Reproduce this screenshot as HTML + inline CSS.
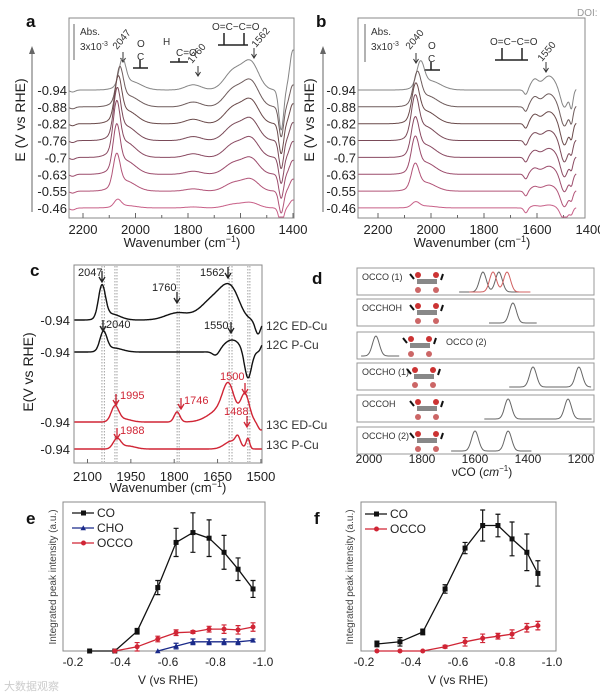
<!DOCTYPE html>
<html><head><meta charset="utf-8"><title>Spectra figure</title>
<style>
html,body{margin:0;padding:0;background:#fff;}
svg{display:block;font-family:"Liberation Sans","Noto Sans CJK SC",sans-serif;}
.tk{font-size:13px;fill:#222;}
.sm{font-size:10px;fill:#333;}
.pl{font-size:17px;font-weight:bold;fill:#111;}
</style></head>
<body>
<svg id="fig" xmlns="http://www.w3.org/2000/svg" width="600" height="696" viewBox="0 0 600 696">
<rect x="0" y="0" width="600" height="696" fill="#fff"/>
<text x="577" y="16" font-size="10" fill="#999">DOI:</text>

<!-- panel a -->
<g id="pa">
<text class="pl" x="26" y="27">a</text>
<rect x="69" y="18" width="225" height="200" fill="none" stroke="#888" stroke-width="1"/>
<line x1="32" y1="212" x2="32" y2="50" stroke="#666"/>
<path d="M29,54 L32,46 L35,54 Z" fill="#666"/>
<text transform="translate(25,120) rotate(-90)" text-anchor="middle" font-size="14" fill="#222">E (V vs RHE)</text>
<text x="182" y="247" text-anchor="middle" font-size="13" fill="#222">Wavenumber (cm<tspan dy="-5" font-size="9">−1</tspan><tspan dy="5">)</tspan></text>
<line x1="74" y1="24" x2="74" y2="60" stroke="#666"/>
<text x="80" y="35" class="sm">Abs.</text>
<text x="80" y="50" class="sm">3x10<tspan dy="-4" font-size="7">-3</tspan></text>
<text transform="translate(117,50) rotate(-50)" class="sm">2047</text>
<path d="M123,52 V62 M120.5,58 L123,62 L125.5,58" stroke="#333" fill="none"/>
<text x="137" y="47" class="sm">O</text>
<text x="137" y="60" class="sm">C</text>
<path d="M140,60 V68 M133,68 H148" stroke="#222" stroke-width="1.5" fill="none"/>
<text x="163" y="45" class="sm">H</text>
<text x="176" y="56" class="sm">C=O</text>
<path d="M179,58 V62 M170,62 H188" stroke="#222" stroke-width="1.5" fill="none"/>
<text transform="translate(192,64) rotate(-50)" class="sm">1760</text>
<path d="M198,66 V76 M195.5,72 L198,76 L200.5,72" stroke="#333" fill="none"/>
<text x="212" y="30" class="sm">O=C−C=O</text>
<path d="M224,33 V45 M244,33 V45 M218,45 H248" stroke="#222" stroke-width="1.5" fill="none"/>
<text transform="translate(256,48) rotate(-50)" class="sm">1562</text>
<path d="M254,48 V58 M251.5,54 L254,58 L256.5,54" stroke="#333" fill="none"/>
</g>

<!-- panel b -->
<g id="pb">
<text class="pl" x="316" y="27">b</text>
<rect x="358" y="18" width="227" height="200" fill="none" stroke="#888" stroke-width="1"/>
<line x1="323" y1="212" x2="323" y2="50" stroke="#666"/>
<path d="M320,54 L323,46 L326,54 Z" fill="#666"/>
<text transform="translate(314,120) rotate(-90)" text-anchor="middle" font-size="14" fill="#222">E (V vs RHE)</text>
<text x="472" y="247" text-anchor="middle" font-size="13" fill="#222">Wavenumber (cm<tspan dy="-5" font-size="9">−1</tspan><tspan dy="5">)</tspan></text>
<line x1="365" y1="24" x2="365" y2="62" stroke="#666"/>
<text x="371" y="35" class="sm">Abs.</text>
<text x="371" y="50" class="sm">3x10<tspan dy="-4" font-size="7">-3</tspan></text>
<text transform="translate(410,50) rotate(-50)" class="sm">2040</text>
<path d="M416,53 V63 M413.5,59 L416,63 L418.5,59" stroke="#333" fill="none"/>
<text x="428" y="49" class="sm">O</text>
<text x="428" y="62" class="sm">C</text>
<path d="M431,62 V70 M424,70 H440" stroke="#222" stroke-width="1.5" fill="none"/>
<text x="490" y="45" class="sm">O=C−C=O</text>
<path d="M502,48 V60 M522,48 V60 M495,60 H528" stroke="#222" stroke-width="1.5" fill="none"/>
<text transform="translate(542,62) rotate(-50)" class="sm">1550</text>
<path d="M546,62 V72 M543.5,68 L546,72 L548.5,68" stroke="#333" fill="none"/>
</g>

<!-- panel c -->
<g id="pc">
<text class="pl" x="30" y="276">c</text>
<rect x="74" y="265" width="188" height="198" fill="none" stroke="#888" stroke-width="1"/>
<text transform="translate(33,372) rotate(-90)" text-anchor="middle" font-size="14" fill="#222">E(V vs RHE)</text>
<text x="168" y="492" text-anchor="middle" font-size="13" fill="#222">Wavenumber (cm<tspan dy="-5" font-size="9">−1</tspan><tspan dy="5">)</tspan></text>
<text x="266" y="330" font-size="12" fill="#333">12C ED-Cu</text>
<text x="266" y="349" font-size="12" fill="#333">12C P-Cu</text>
<text x="266" y="429" font-size="12" fill="#333">13C ED-Cu</text>
<text x="266" y="449" font-size="12" fill="#333">13C P-Cu</text>
</g>

<!-- panel d -->
<g id="pd">
<text class="pl" x="312" y="284">d</text>
<text x="482" y="476" text-anchor="middle" font-size="12" fill="#222">νCO (<tspan font-style="italic">cm</tspan><tspan dy="-5" font-size="8">−1</tspan><tspan dy="5">)</tspan></text>
</g>

<!-- panel e -->
<g id="pe">
<text class="pl" x="26" y="524">e</text>
<rect x="63" y="502" width="202" height="149" fill="none" stroke="#888"/>
<text transform="translate(56,577) rotate(-90)" text-anchor="middle" font-size="10" fill="#444">Integrated peak intensity (a.u.)</text>
<text x="168" y="684" text-anchor="middle" font-size="12" fill="#222">V (vs RHE)</text>
</g>

<!-- panel f -->
<g id="pf">
<text class="pl" x="314" y="524">f</text>
<rect x="361" y="502" width="195" height="149" fill="none" stroke="#888"/>
<text transform="translate(353,577) rotate(-90)" text-anchor="middle" font-size="10" fill="#444">Integrated peak intensity (a.u.)</text>
<text x="458" y="684" text-anchor="middle" font-size="12" fill="#222">V (vs RHE)</text>
</g>
<text x="4" y="690" font-size="11" fill="#ccc">大数据观察</text>
</svg>

<script>
// ---------- data ----------
const abPotentialLabels = ['-0.94','-0.88','-0.82','-0.76','-0.7','-0.63','-0.55','-0.46'];
const aCoHeights = [25,32,38,42,45,40,30,7];
const aCoCenters = [2050,2060,2066,2070,2072,2072,2072,2068];
const aBandHeights = [26,24,22,20,18,15,11,5];
const aDipDepths = [40,30,30,28,26,24,22,16];
const aRiseHeights = [40,22,20,18,16,14,12,8];
const bCoHeights = [23,28,32,36,32,30,22,5];
const bCoCenters = [2040,2052,2058,2060,2060,2060,2060,2058];
const bBandHeights = [14,13,12,10,9,8,6,3];
const bDipDepths = [18,20,22,22,20,18,16,12];
const bRiseHeights = [32,28,25,22,20,18,15,10];
const abTicks = [2200,2000,1800,1600,1400];
const traceColors = ['#858585','#6e5c5c','#6a4a4a','#7a4a58','#8a4a62','#9c4c6c','#b25478','#c86088'];

const cTicks = [2100,1950,1800,1650,1500];
const cTraceNames = ['12c-ed-cu','12c-p-cu','13c-ed-cu','13c-p-cu'];
const cBaselines = [320,352,422,449];
const cColors = ['#111','#111','#d02535','#d02535'];
const cPeaks12ED = [[2050,12,32],[2018,30,6],[1790,40,7],[1660,45,22],[1612,28,20],[1585,22,8],[1510,10,-14]];
const cPeaks12P = [[2045,12,19],[2010,30,4],[1655,12,-5],[1600,30,12],[1545,12,-28],[1490,8,10]];
const cPeaks13ED = [[2005,13,15],[1975,25,3],[1790,10,10],[1640,40,12],[1612,20,30],[1555,15,27],[1500,10,-8]];
const cPeaks13P = [[1998,13,10],[1960,25,3],[1600,25,8],[1580,8,8],[1545,6,10]];
const cDotted = [2050,2042,2005,1998,1790,1783,1610,1600,1545,1538];

const dTicks = [2000,1800,1600,1400,1200];
const dLabels = ['OCCO (1)','OCCHOH','OCCO (2)','OCCHO (1)','OCCOH','OCCHO (2)'];
const dGrayPeaks = [[1570,1510],[1457],[1974],[1381,1208],[1475,1249],[1600,1475]];
const dRedPeaks = [[1532,1479],[],[],[],[],[]];

const vTicks = [-0.2,-0.4,-0.6,-0.8,-1.0];
const vTickLabels = ['-0.2','-0.4','-0.6','-0.8','-1.0'];
const eV = [-0.27,-0.376,-0.47,-0.557,-0.634,-0.705,-0.773,-0.836,-0.895,-0.958];
const eCO = [0,0,0.14,0.45,0.77,0.84,0.80,0.70,0.58,0.44];
const eCOerr = [0,0,0.02,0.05,0.10,0.14,0.13,0.12,0.08,0.06];
const eOCCOv = [-0.376,-0.47,-0.557,-0.634,-0.705,-0.773,-0.836,-0.895,-0.958];
const eOCCO = [0,0.03,0.085,0.13,0.135,0.155,0.155,0.15,0.17];
const eOCCOerr = [0,0.03,0.02,0.02,0.01,0.02,0.03,0.03,0.03];
const eCHOv = [-0.557,-0.634,-0.705,-0.773,-0.836,-0.895,-0.958];
const eCHO = [0,0.035,0.065,0.065,0.065,0.065,0.075];
const eCHOerr = [0,0.02,0.02,0.02,0.02,0.02,0.01];
const fV = [-0.255,-0.353,-0.45,-0.545,-0.63,-0.705,-0.77,-0.83,-0.893,-0.94];
const fCO = [0.05,0.065,0.135,0.44,0.73,0.89,0.89,0.795,0.70,0.55];
const fCOerr = [0.02,0.03,0.02,0.03,0.04,0.11,0.08,0.12,0.13,0.09];
const fOCCO = [0,0,0,0.03,0.065,0.09,0.105,0.12,0.165,0.18];
const fOCCOerr = [0,0,0,0.01,0.03,0.03,0.02,0.03,0.03,0.03];

// ---------- helpers ----------
const NS = 'http://www.w3.org/2000/svg';
function mk(tag, attrs, parent){const e=document.createElementNS(NS,tag);for(const k in attrs)e.setAttribute(k,attrs[k]);parent.appendChild(e);return e;}
function g(w,c,s){return Math.exp(-((w-c)*(w-c))/(2*s*s));}
const pa=document.getElementById('pa'),pb=document.getElementById('pb'),pc=document.getElementById('pc'),pd=document.getElementById('pd'),pe=document.getElementById('pe'),pf=document.getElementById('pf');

// ---------- panels a & b ----------
const xA = w => 83+(2200-w)*0.2625;
const xB = w => 378+(2200-w)*0.265;
const rowY = i => 90+i*16.85;
function drawAB(panel, xf, wl, wr, labelX, fn, tag){
  abTicks.forEach(t=>{
    const tl=mk('text',{x:xf(t),y:234,'text-anchor':'middle',class:'tk'},panel);
    tl.textContent=String(t);
    
    
  });
  for(let t=2200;t>=1400;t-=100){
    if(xf(t)>xf(wr)+1) continue;
    const tm=mk('line',{x1:xf(t),x2:xf(t),y1:218,y2:t%200===0?213:215,stroke:'#666'},panel);
    
    
  }
  abPotentialLabels.forEach((lab,i)=>{
    const y=rowY(i);
    const tl=mk('text',{x:labelX,y:y+5,'text-anchor':'end',class:'tk'},panel);
    tl.textContent=lab;
    
    
    let d='';
    for(let w=wl;w>=wr;w-=2){
      const yy=y-fn(w,i);
      d+=(d?'L':'M')+xf(w).toFixed(1)+','+Math.max(19,Math.min(217,yy)).toFixed(1);
    }
    const p=mk('path',{d:d,fill:'none',stroke:traceColors[i],'stroke-width':1},panel);
    
    
  });
}
drawAB(pa,xA,2252,1397,67,(w,i)=>{
  const c=aCoCenters[i],h=aCoHeights[i],b=aBandHeights[i];
  return h*(g(w,c,13)+0.35*g(w,c-30,40))+0.2*b*g(w,1780,30)+b*(0.75*g(w,1625,35)+g(w,1560,30))
        -aDipDepths[i]*g(w,1445,9)+aRiseHeights[i]*g(w,1400,12)-2*g(w,2240,10);
},'panel-a');
drawAB(pb,xB,2274,1451,356,(w,i)=>{
  const c=bCoCenters[i],h=bCoHeights[i],b=bBandHeights[i];
  return h*(g(w,c,14)+0.4*g(w,c-35,40))+b*(0.7*g(w,1610,14)+g(w,1555,25))-5*g(w,1642,7)
        -bDipDepths[i]*g(w,1497,14)+bRiseHeights[i]*g(w,1428,9)-0.5*bRiseHeights[i]*g(w,1470,6);
},'panel-b');

// ---------- panel c ----------
const xC = w => 87.5+(2100-w)*0.289;
cTicks.forEach(t=>{
  const tl=mk('text',{x:xC(t),y:481,'text-anchor':'middle',class:'tk'},pc);
  tl.textContent=String(t);
  
  
  const tm=mk('line',{x1:xC(t),x2:xC(t),y1:463,y2:459,stroke:'#666'},pc);
  
  
});
cDotted.forEach(w=>{
  const l=mk('line',{x1:xC(w),x2:xC(w),y1:266,y2:462,stroke:'#777','stroke-width':0.7,'stroke-dasharray':'1.5,1.5'},pc);
  
  
});
[cPeaks12ED,cPeaks12P,cPeaks13ED,cPeaks13P].forEach((pk,i)=>{
  const base=cBaselines[i];
  const tl=mk('text',{x:70,y:base+5,'text-anchor':'end',class:'tk'},pc);
  tl.textContent='-0.94';
  
  
  let d='';
  for(let w=2145;w>=1497;w-=2){
    let h=0; pk.forEach(q=>{h+=q[2]*g(w,q[0],q[1]);});
    d+=(d?'L':'M')+xC(w).toFixed(1)+','+(base-h).toFixed(1);
  }
  const p=mk('path',{d:d,fill:'none',stroke:cColors[i],'stroke-width':1.4},pc);
  
  
});
const cAnn=[['2047',78,276,102,271,'#222'],['1760',152,291,177,292,'#222'],['1562',200,276,228,267,'#222'],
  ['2040',106,328,103,320,'#222'],['1550',204,329,231,322,'#222'],
  ['1995',120,399,116,394,'#d02535'],['1746',184,404,181,398,'#d02535'],['1500',220,380,245,383,'#d02535'],
  ['1488',224,415,247,416,'#d02535'],['1988',120,434,117,428,'#d02535']];
cAnn.forEach(a=>{
  const t=mk('text',{x:a[1],y:a[2],'font-size':11,fill:a[5]},pc);
  t.textContent=a[0];
  
  
  const ar=mk('path',{d:`M${a[3]},${a[4]} V${a[4]+11} M${a[3]-3},${a[4]+6} L${a[3]},${a[4]+11} L${a[3]+3},${a[4]+6}`,stroke:a[5],'stroke-width':1.3,fill:'none'},pc);
  
  
});

// ---------- panel d ----------
const xD = w => 369+(2000-w)*0.265;
const boxTops=[268,299,332,363,395,427];
dTicks.forEach(t=>{
  const tl=mk('text',{x:xD(t),y:463,'text-anchor':'middle','font-size':12,fill:'#222'},pd);
  tl.textContent=String(t);
  
  
});
dLabels.forEach((lab,i)=>{
  const top=boxTops[i],bot=top+27;
  const r=mk('rect',{x:357,y:top,width:237,height:27,fill:'none',stroke:'#999'},pd);
  
  
  const lx = i===2?446:362, ly = i===2?top+13:top+12;
  const t=mk('text',{x:lx,y:ly,'font-size':9,fill:'#333'},pd);
  t.textContent=lab;
  
  
  const mx = i===2?408:(i===3?412:415);
  const m=mk('g',{},pd);
  
  
  mk('rect',{x:mx+2,y:top+11,width:20,height:5,fill:'#888'},m);
  mk('circle',{cx:mx+3,cy:top+7,r:3,fill:'#c33'},m);
  mk('circle',{cx:mx+21,cy:top+7,r:3,fill:'#c33'},m);
  mk('circle',{cx:mx+3,cy:top+22,r:3,fill:'#c66'},m);
  mk('circle',{cx:mx+21,cy:top+22,r:3,fill:'#c66'},m);
  mk('line',{x1:mx-5,y1:top+6,x2:mx-1,y2:top+11,stroke:'#111','stroke-width':2},m);
  mk('line',{x1:mx+28,y1:top+6,x2:mx+26,y2:top+12,stroke:'#111','stroke-width':2},m);
  const draw=(peaks,col)=>{
    if(!peaks.length) return;
    const wl=Math.max(...peaks)+90, wr=Math.min(...peaks)-90;
    let d='';
    for(let w=Math.min(wl,2030);w>=Math.max(wr,1160);w-=3){
      let h=0; peaks.forEach(c=>{h+=20*g(w,c,13);});
      d+=(d?'L':'M')+xD(w).toFixed(1)+','+(bot-3-h).toFixed(1);
    }
    const p=mk('path',{d:d,fill:'none',stroke:col,'stroke-width':1},pd);
    
    
  };
  draw(dGrayPeaks[i],'#666');
  draw(dRedPeaks[i],'#d06060');
});

// ---------- panels e & f ----------
const yV = v => 651-v*141;
const xE = v => 73+(-0.2-v)*237.5;
const xF = v => 364+(-0.2-v)*235;
function xTicks(panel,xf,tag){
  vTicks.forEach((t,i)=>{
    const tl=mk('text',{x:xf(t),y:666,'text-anchor':'middle','font-size':12,fill:'#222'},panel);
    tl.textContent=vTickLabels[i];
    
    
  });
}
function series(panel,xf,xs,ys,errs,color,marker,tag){
  const d=xs.map((v,i)=>(i?'L':'M')+xf(v).toFixed(1)+','+yV(ys[i]).toFixed(1)).join('');
  const p=mk('path',{d:d,fill:'none',stroke:color,'stroke-width':1.3},panel);
  
  
  xs.forEach((v,i)=>{
    const x=xf(v),y=yV(ys[i]),e=errs[i]*141;
    if(e>0){
      const eb=mk('path',{d:`M${x},${y-e}V${y+e}M${x-2.5},${y-e}H${x+2.5}M${x-2.5},${y+e}H${x+2.5}`,stroke:color,'stroke-width':1.2,fill:'none'},panel);
      
      
    }
    let mkr;
    if(marker==='sq') mkr=mk('rect',{x:x-2.5,y:y-2.5,width:5,height:5,fill:color},panel);
    else if(marker==='tri') mkr=mk('path',{d:`M${x-2.8},${y+2.2}L${x},${y-2.8}L${x+2.8},${y+2.2}Z`,fill:color},panel);
    else mkr=mk('circle',{cx:x,cy:y,r:2.5,fill:color},panel);
    
    
  });
}
function legend(panel,x,y,color,marker,label,tag){
  const l=mk('line',{x1:x,x2:x+22,y1:y,y2:y,stroke:color,'stroke-width':1.3},panel);
  
  
  let m;
  if(marker==='sq') m=mk('rect',{x:x+9,y:y-2.5,width:5,height:5,fill:color},panel);
  else if(marker==='tri') m=mk('path',{d:`M${x+8.5},${y+2.2}L${x+11.3},${y-2.8}L${x+14},${y+2.2}Z`,fill:color},panel);
  else m=mk('circle',{cx:x+11.5,cy:y,r:2.5,fill:color},panel);
  
  
  const t=mk('text',{x:x+25,y:y+4,'font-size':12,fill:'#222'},panel);
  t.textContent=label;
  
  
}
xTicks(pe,xE,'panel-e');
series(pe,xE,eV,eCO,eCOerr,'#111','sq','panel-e-co');
series(pe,xE,eOCCOv,eOCCO,eOCCOerr,'#d02535','ci','panel-e-occo');
series(pe,xE,eCHOv,eCHO,eCHOerr,'#1a2a8a','tri','panel-e-cho');
legend(pe,72,513,'#111','sq','CO','panel-e-co');
legend(pe,72,528,'#1a2a8a','tri','CHO','panel-e-cho');
legend(pe,72,543,'#d02535','ci','OCCO','panel-e-occo');

xTicks(pf,xF,'panel-f');
series(pf,xF,fV,fCO,fCOerr,'#111','sq','panel-f-co');
series(pf,xF,fV,fOCCO,fOCCOerr,'#d02535','ci','panel-f-occo');
legend(pf,365,514,'#111','sq','CO','panel-f-co');
legend(pf,365,529,'#d02535','ci','OCCO','panel-f-occo');
</script>
</body></html>
